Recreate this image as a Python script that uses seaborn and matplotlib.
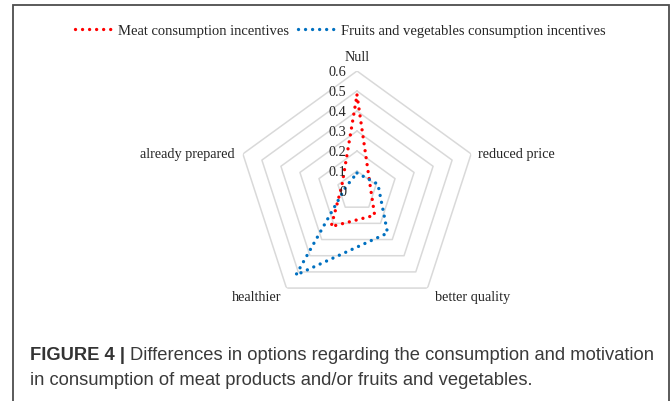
import numpy as np
import pandas as pd
import matplotlib
matplotlib.use("Agg")
import matplotlib.pyplot as plt
import seaborn as sns
from matplotlib.patches import Rectangle
from matplotlib.lines import Line2D

# ---- data ----
categories = ["Null", "reduced price", "better quality", "healthier", "already prepared"]
meat = [0.48, 0.07, 0.15, 0.22, 0.08]
fruit_veg = [0.09, 0.11, 0.26, 0.52, 0.06]
series_names = ["Meat consumption incentives", "Fruits and vegetables consumption incentives"]
series_colors = ["#ff0000", "#0070c0"]
r_ticks = [0, 0.1, 0.2, 0.3, 0.4, 0.5, 0.6]
r_tick_labels = ["0", "0.1", "0.2", "0.3", "0.4", "0.5", "0.6"]
caption_bold = "FIGURE 4 |"
caption_line1 = "Differences in options regarding the consumption and motivation"
caption_line2 = "in consumption of meat products and/or fruits and vegetables."

sns.set_theme(style="white")
plt.rcParams["font.family"] = ["Liberation Serif", "DejaVu Serif"]

W, H = 672, 402
fig = plt.figure(figsize=(W / 100, H / 100), dpi=100)
fig.patch.set_facecolor("white")

cx, cy, R = 357, 192, 120
ax = fig.add_axes([(cx - R) / W, (H - cy - R) / H, 2 * R / W, 2 * R / H], projection="polar")
ax.set_theta_offset(np.pi / 2)
ax.set_theta_direction(-1)
ax.patch.set_alpha(0)

n = len(categories)
angles = list(np.arange(n) * 2 * np.pi / n)
closed = angles + [angles[0]]

# pentagon grid
for r in r_ticks[1:]:
    ax.plot(closed, [r] * (n + 1), color="#d9d9d9", lw=1.1, zorder=0)
n_grid = len(ax.lines)

rows = []
for name, vals in zip(series_names, [meat, fruit_veg]):
    for i, (a, v) in enumerate(zip(closed, vals + [vals[0]])):
        rows.append(dict(series=name, theta=a, r=v, order=i))
df = pd.DataFrame(rows)

dot = (0, (0.01, 2.1))
sns.lineplot(data=df, x="theta", y="r", hue="series", palette=series_colors,
             sort=False, estimator=None, ax=ax, lw=2.4, legend=False, zorder=3)
for ln in ax.lines[n_grid:]:
    ln.set_linestyle(dot)
    ln.set_dash_capstyle("round")

ax.set_ylim(0, 0.6)
ax.grid(False)
ax.spines["polar"].set_visible(False)
ax.set_xticks([])
ax.set_yticks([])
ax.set_xlabel("")
ax.set_ylabel("")

fs = 10.3
txt_color = "#262626"
# radial labels
for r, lab in zip(r_ticks, r_tick_labels):
    ax.annotate(lab, xy=(0, r), xytext=(-11, 0), textcoords="offset pixels",
                ha="right", va="center", fontsize=fs, color=txt_color)

# category labels
offsets = [(0, 15, "center"), (7, 0, "left"), (7, -8, "left"), (-5, -8, "right"), (-8, 0, "right")]
for a, lab, (dx, dy, ha) in zip(angles, categories, offsets):
    ax.annotate(lab, xy=(a, 0.6), xytext=(dx, dy), textcoords="offset pixels",
                ha=ha, va="center", fontsize=fs, color=txt_color)

# legend
handles = [Line2D([0], [0], color=c, lw=2.4, linestyle=dot, dash_capstyle="round") for c in series_colors]
fig.legend(handles, series_names, loc="center", bbox_to_anchor=(0.506, 1 - 31 / H), ncol=2,
           frameon=False, fontsize=10.5, handlelength=2.6, handletextpad=0.35, columnspacing=0.6)

# frame
fig.add_artist(Rectangle((13 / W, -0.02), (669 - 13) / W, (H - 6) / H + 0.02,
                         transform=fig.transFigure, fill=False, edgecolor="#4d4d4d", lw=1.3))

# caption
cap_fam = ["Liberation Sans", "DejaVu Sans"]
cfs = 13.2
t_bold = fig.text(30 / W, 1 - 356 / H, caption_bold, fontsize=cfs, fontweight="bold",
                  family=cap_fam, color="#333333", va="center")
renderer = fig.canvas.get_renderer()
bb = t_bold.get_window_extent(renderer=renderer)
fig.text((bb.x1 + 5) / W, 1 - 356 / H, caption_line1, fontsize=cfs, family=cap_fam,
         color="#3a3a3a", va="center")
fig.text(30 / W, 1 - 381 / H, caption_line2, fontsize=cfs, family=cap_fam,
         color="#3a3a3a", va="center")

fig.savefig("out.png", dpi=100)
